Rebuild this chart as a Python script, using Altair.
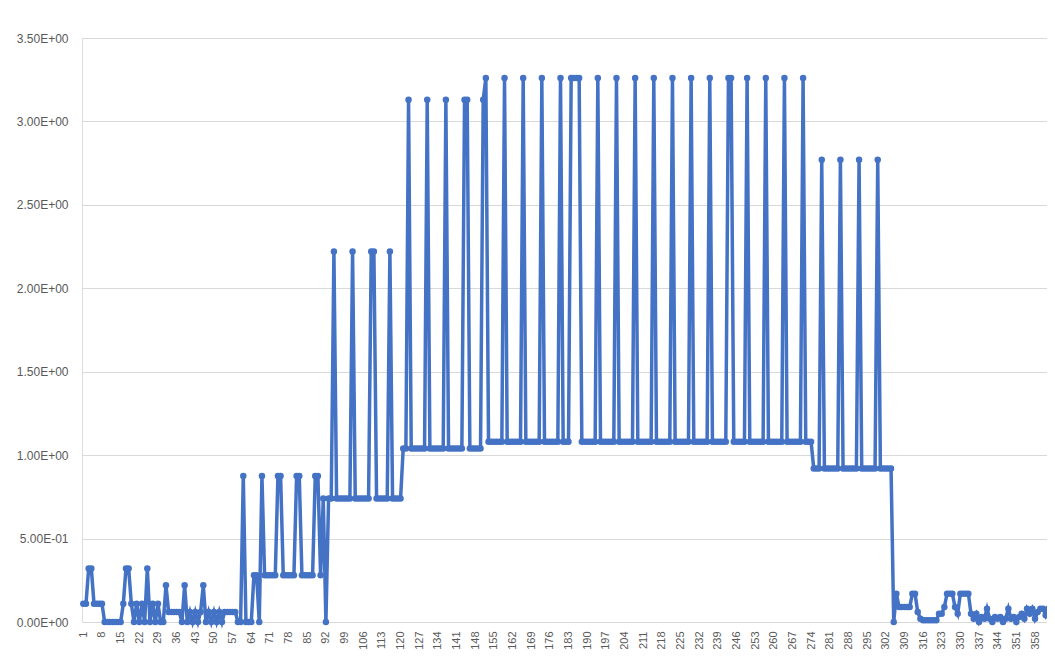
import altair as alt
import pandas as pd

# Values, in category order 1..365
seg_1_60 = [
    0.11, 0.11, 0.32, 0.32, 0.11, 0.11, 0.11, 0.11, 0.0, 0.0,
    0.0, 0.0, 0.0, 0.0, 0.0, 0.11, 0.32, 0.32, 0.11, 0.0,
    0.11, 0.0, 0.11, 0.0, 0.32, 0.0, 0.11, 0.0, 0.11, 0.0,
    0.0, 0.22, 0.06, 0.06, 0.06, 0.06, 0.06, 0.0, 0.22, 0.0,
    0.06, 0.0, 0.06, 0.0, 0.06, 0.22, 0.0, 0.06, 0.0, 0.06,
    0.0, 0.06, 0.0, 0.06, 0.06, 0.06, 0.06, 0.06, 0.0, 0.0,
]
seg_61_94 = [
    0.875, 0.0, 0.0, 0.0, 0.28, 0.28, 0.0,
    0.875, 0.28, 0.28, 0.28, 0.28, 0.28,
    0.875, 0.875, 0.28, 0.28, 0.28, 0.28, 0.28,
    0.875, 0.875, 0.28, 0.28, 0.28, 0.28, 0.28,
    0.875, 0.875, 0.28, 0.74, 0.0, 0.74, 0.74,
]
seg_95_122 = [
    2.22,
    0.74, 0.74, 0.74, 0.74, 0.74, 0.74, 2.22,
    0.74, 0.74, 0.74, 0.74, 0.74, 0.74, 2.22,
    2.22, 0.74, 0.74, 0.74, 0.74, 0.74, 2.22,
    0.74, 0.74, 0.74, 0.74, 1.04, 1.04,
]
seg_123_152 = [
    3.13,
    1.04, 1.04, 1.04, 1.04, 1.04, 1.04, 3.13,
    1.04, 1.04, 1.04, 1.04, 1.04, 1.04, 3.13,
    1.04, 1.04, 1.04, 1.04, 1.04, 1.04, 3.13,
    3.13, 1.04, 1.04, 1.04, 1.04, 1.04, 3.13,
    3.26,
]
seg_153_274 = [
    1.08, 1.08, 1.08, 1.08, 1.08, 1.08, 3.26,
    1.08, 1.08, 1.08, 1.08, 1.08, 1.08, 3.26,
    1.08, 1.08, 1.08, 1.08, 1.08, 1.08, 3.26,
    1.08, 1.08, 1.08, 1.08, 1.08, 1.08, 3.26,
    1.08, 1.08, 1.08, 3.26, 3.26, 3.26, 3.26,
    1.08, 1.08, 1.08, 1.08, 1.08, 1.08, 3.26,
    1.08, 1.08, 1.08, 1.08, 1.08, 1.08, 3.26,
    1.08, 1.08, 1.08, 1.08, 1.08, 1.08, 3.26,
    1.08, 1.08, 1.08, 1.08, 1.08, 1.08, 3.26,
    1.08, 1.08, 1.08, 1.08, 1.08, 1.08, 3.26,
    1.08, 1.08, 1.08, 1.08, 1.08, 1.08, 3.26,
    1.08, 1.08, 1.08, 1.08, 1.08, 1.08, 3.26,
    1.08, 1.08, 1.08, 1.08, 1.08, 1.08, 3.26,
    3.26, 1.08, 1.08, 1.08, 1.08, 1.08, 3.26,
    1.08, 1.08, 1.08, 1.08, 1.08, 1.08, 3.26,
    1.08, 1.08, 1.08, 1.08, 1.08, 1.08, 3.26,
    1.08, 1.08, 1.08, 1.08, 1.08, 1.08, 3.26,
    1.08, 1.08, 1.08,
]
seg_275_304 = [
    0.92, 0.92, 0.92, 2.77,
    0.92, 0.92, 0.92, 0.92, 0.92, 0.92, 2.77,
    0.92, 0.92, 0.92, 0.92, 0.92, 0.92, 2.77,
    0.92, 0.92, 0.92, 0.92, 0.92, 0.92, 2.77,
    0.92, 0.92, 0.92, 0.92, 0.92,
]
seg_305_365 = [
    0.0, 0.17, 0.09, 0.09, 0.09, 0.09, 0.09, 0.17, 0.17, 0.06,
    0.02, 0.01, 0.01, 0.01, 0.01, 0.01, 0.01, 0.05, 0.05, 0.09,
    0.17, 0.17, 0.17, 0.09, 0.05, 0.17, 0.17, 0.17, 0.17, 0.05,
    0.02, 0.05, 0.0, 0.03, 0.02, 0.08, 0.02, 0.0, 0.03, 0.02,
    0.03, 0.0, 0.02, 0.08, 0.02, 0.03, 0.0, 0.03, 0.05, 0.02,
    0.08, 0.05, 0.08, 0.02, 0.06, 0.08, 0.08, 0.04, 0.08, 0.08,
    0.05,
]

values = (seg_1_60 + seg_61_94 + seg_95_122 + seg_123_152
          + seg_153_274 + seg_275_304 + seg_305_365)
categories = list(range(1, len(values) + 1))

x_tick_labels = [1, 8, 15, 22, 29, 36, 43, 50, 57, 64, 71, 78, 85, 92, 99,
                 106, 113, 120, 127, 134, 141, 148, 155, 162, 169, 176, 183,
                 190, 197, 204, 211, 218, 225, 232, 239, 246, 253, 260, 267,
                 274, 281, 288, 295, 302, 309, 316, 323, 330, 337, 344, 351,
                 358, 365]
y_ticks = [0, 0.5, 1.0, 1.5, 2.0, 2.5, 3.0, 3.5]

# The reference picture is cropped at its right edge, just past category 362
visible_domain = [0.5, 362.5]

df = pd.DataFrame({"cat": categories, "val": values})
BLUE = "#4472C4"

x_enc = alt.X(
    "cat:Q",
    scale=alt.Scale(domain=visible_domain, nice=False, zero=False),
    axis=alt.Axis(
        values=x_tick_labels, tickCount=500, labelAngle=-90, ticks=False,
        domain=False, grid=False, title=None, labelFontSize=11,
        labelColor="#595959", labelFont="Liberation Sans", labelPadding=9,
        labelFlush=False, labelOverlap=False,
    ),
)
y_enc = alt.Y(
    "val:Q",
    scale=alt.Scale(domain=[0, 3.5], nice=False),
    axis=alt.Axis(
        values=y_ticks, tickCount=20, ticks=False, domain=False, grid=True,
        gridColor="#d9d9d9", gridWidth=1, title=None,
        labelFontSize=12, labelColor="#595959", labelFont="Liberation Sans",
        labelPadding=14,
        labelExpr="replace(replace(format(datum.value, '.2e'), 'e+', 'E+0'), 'e-', 'E-0')",
    ),
)

line = alt.Chart(df).mark_line(color=BLUE, strokeWidth=3.5).encode(x=x_enc, y=y_enc)
pts = alt.Chart(df).mark_circle(color=BLUE, size=42, opacity=1).encode(x="cat:Q", y="val:Q")

chart = (
    alt.layer(line, pts)
    .properties(width=965, height=584,
                autosize=alt.AutoSizeParams(type="none"),
                padding={"left": 74, "top": 30, "right": 0, "bottom": 27})
    .configure_view(stroke=None)
    .configure(background="white")
)

chart.save("out.html", embed_options={"renderer": "svg", "actions": False})
